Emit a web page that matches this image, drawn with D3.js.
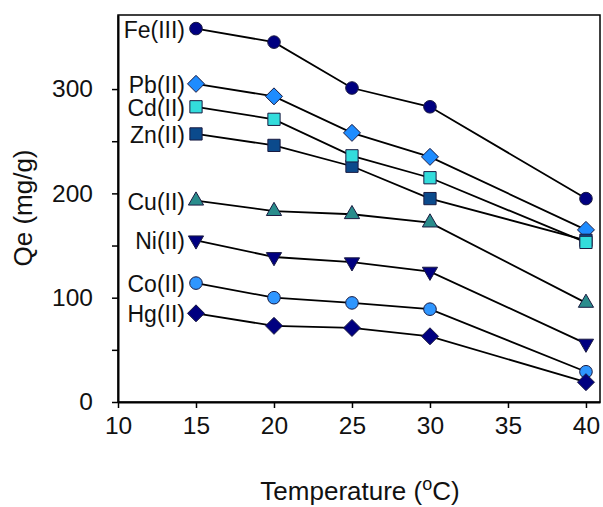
<!DOCTYPE html>
<html><head><meta charset="utf-8">
<script src="https://cdn.jsdelivr.net/npm/d3@7"></script>
<style>body{margin:0;background:#fff}svg{display:block}text{font-family:"Liberation Sans",Arial,sans-serif}</style>
</head><body><svg id="c" width="603" height="507"></svg>
<script>
const temperatures = [15, 20, 25, 30, 40];
const metals = ["Fe(III)", "Pb(II)", "Cd(II)", "Zn(II)", "Cu(II)", "Ni(II)", "Co(II)", "Hg(II)"];
const feValues = [358, 345, 301, 283, 195];
const pbValues = [305, 293, 258, 235, 165];
const cdValues = [283, 271, 236, 215, 153];
const znValues = [257, 246, 226, 195, 155];
const cuValues = [193, 183, 180, 172, 95];
const niValues = [155, 139, 134, 125, 56];
const coValues = [114, 100, 95, 89, 29];
const hgValues = [85, 73, 71, 63, 19];
const xTicks = [10, 15, 20, 25, 30, 35, 40];
const yTicks = [0, 50, 100, 150, 200, 250, 300];

const seriesValues = [feValues, pbValues, cdValues, znValues, cuValues, niValues, coValues, hgValues];
const shapes = ["circle", "diamond", "square", "square", "triangle", "triangleDown", "circle", "diamond"];
const colors = ["#000080", "#1e8cff", "#33dcdc", "#0b4a8c", "#2a8c8c", "#000080", "#2f96ff", "#000080"];
const drawOrder = [0, 1, 3, 2, 4, 5, 6, 7];

const svg = d3.select("#c");
const x = d3.scaleLinear().domain([10, 40.9]).range([118, 600]);
const y = d3.scaleLinear().domain([0, 371]).range([402, 15]);
const FONT = '"Liberation Sans",Arial,sans-serif';

svg.append("rect").attr("x", x(10)).attr("y", y(371)).attr("width", x(40.9) - x(10)).attr("height", y(0) - y(371))
  .attr("fill", "none").attr("stroke", "#000").attr("stroke-width", 1.5);

const xAxis = svg.append("g").attr("transform", `translate(0,${y(0)})`)
  .call(d3.axisBottom(x).tickValues(xTicks).tickSize(6).tickPadding(9).tickSizeOuter(0));
const yAxis = svg.append("g").attr("transform", `translate(${x(10)},0)`)
  .call(d3.axisLeft(y).tickValues(yTicks).tickSize(6).tickPadding(19).tickSizeOuter(0)
    .tickFormat(d => d % 100 === 0 ? d : ""));
[xAxis, yAxis].forEach(g => {
  g.select(".domain").attr("stroke", "#000").attr("stroke-width", 2);
  g.selectAll(".tick line").attr("stroke", "#000").attr("stroke-width", 1.5);
  g.selectAll(".tick text").attr("font-size", 24.5).attr("fill", "#111").style("font-family", FONT);
});

svg.append("text").attr("transform", `translate(32,208) rotate(-90)`).attr("text-anchor", "middle")
  .attr("font-size", 26).attr("fill", "#111").text("Qe (mg/g)");
const xt = svg.append("text").attr("x", 360).attr("y", 500).attr("text-anchor", "middle")
  .attr("font-size", 26).attr("fill", "#111");
xt.append("tspan").text("Temperature (");
xt.append("tspan").attr("font-size", 18).attr("dy", -10).text("o");
xt.append("tspan").attr("dy", 10).text("C)");

const line = d3.line().x((d, i) => x(temperatures[i])).y(d => y(d));
const diamondPath = r => `M0,${-r}L${r},0L0,${r}L${-r},0Z`;
const sym = {
  circle: () => d3.symbol().type(d3.symbolCircle).size(125)(),
  diamond: () => diamondPath(8.5),
  square: () => d3.symbol().type(d3.symbolSquare).size(150)(),
  triangle: () => d3.symbol().type(d3.symbolTriangle).size(100)(),
  triangleDown: () => d3.symbol().type(d3.symbolTriangle).size(100)()
};

seriesValues.forEach(vals => {
  svg.append("path").attr("d", line(vals)).attr("fill", "none").attr("stroke", "#000").attr("stroke-width", 1.8);
});
drawOrder.forEach(s => {
  const vals = seriesValues[s];
  const g = svg.append("g");
  vals.forEach((v, i) => {
    const rot = shapes[s] === "triangleDown" ? " rotate(180)" : "";
    g.append("path").attr("d", sym[shapes[s]]())
      .attr("transform", `translate(${x(temperatures[i])},${y(v)})${rot}`)
      .attr("fill", colors[s]).attr("stroke", "#1a1a40").attr("stroke-width", 1);
  });
  svg.append("text")
    .attr("transform", `translate(${x(temperatures[0]) - 11},${y(vals[0])}) scale(1,1.08)`)
    .attr("dy", "0.36em").attr("text-anchor", "end").attr("font-size", 23).attr("fill", "#111")
    .text(metals[s]);
});
</script></body></html>
